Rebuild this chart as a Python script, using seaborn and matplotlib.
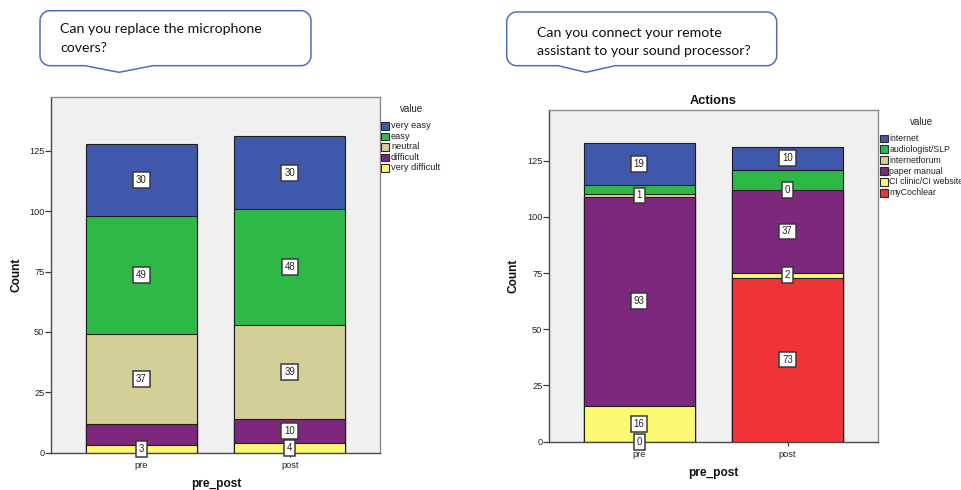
import numpy as np
import pandas as pd
import matplotlib
matplotlib.use("Agg")
import matplotlib.pyplot as plt
import seaborn as sns
from matplotlib.patches import Rectangle, Polygon

# ---- data -------------------------------------------------------------
periods = ["pre", "post"]

# Question 1: replacing the microphone covers (legend order, top of stack first)
cover_levels = ["very easy", "easy", "neutral", "difficult", "very difficult"]
cover_pre = [30, 49, 37, 9, 3]
cover_post = [30, 48, 39, 10, 4]
cover_colors = ["#3F58AB", "#2EB848", "#D4CF98", "#7D287D", "#FBF873"]
# segments whose value is printed on the bar
cover_show_pre = [True, True, True, False, True]
cover_show_post = [True, True, True, True, True]

# Question 2: connecting the remote assistant (legend order, top of stack first)
action_levels = ["internet", "audiologist/SLP", "internetforum",
                 "paper manual", "CI clinic/CI website", "myCochlear"]
action_pre = [19, 4, 1, 93, 16, 0]
action_post = [10, 9, 0, 37, 2, 73]
action_colors = ["#3F58AB", "#2EB848", "#D4CF98", "#7D287D", "#FBF873", "#EF3338"]
action_show_pre = [True, False, True, True, True, True]
action_show_post = [True, False, True, True, True, True]

W, H = 962, 490
sns.set_theme(style="white")
plt.rcParams["font.family"] = ["Liberation Sans", "DejaVu Sans"]

fig = plt.figure(figsize=(W / 100, H / 100), dpi=100)
fig.patch.set_facecolor("white")


def fx(px):
    return px / W


def fy(py):
    return 1 - py / H


def stacked_panel(rect, levels, pre, post, colors, show_pre, show_post,
                  ymax, title=None):
    ax = fig.add_axes(rect)
    ax.set_facecolor("#F0F0F0")
    df = pd.DataFrame({
        "value": levels * 2,
        "pre_post": [periods[0]] * len(levels) + [periods[1]] * len(levels),
        "Count": list(pre) + list(post),
    })
    df["value"] = pd.Categorical(df["value"], levels, ordered=True)
    df = df.sort_values(["pre_post", "value"], ascending=[True, False])
    # bottom of stack is the last legend level
    df["top"] = df.groupby("pre_post", sort=False)["Count"].cumsum()
    df["base"] = df["top"] - df["Count"]

    # draw cumulative bars from the tallest layer down so each layer covers the next
    for lvl, col in zip(levels, colors):
        layer = df[df["value"] == lvl]
        sns.barplot(data=layer, x="pre_post", y="top", order=periods,
                    color=col, width=0.75, edgecolor="#1e1e1e", linewidth=0.8,
                    saturation=1, errorbar=None, ax=ax)

    shows = {periods[0]: show_pre, periods[1]: show_post}
    for _, row in df.iterrows():
        i = levels.index(row["value"])
        if not shows[row["pre_post"]][i]:
            continue
        xpos = periods.index(row["pre_post"])
        ax.text(xpos, row["base"] + row["Count"] / 2, str(int(row["Count"])),
                ha="center", va="center", fontsize=6.9, color="#222222",
                clip_on=False, zorder=10,
                bbox=dict(boxstyle="square,pad=0.3", fc="white",
                          ec="#3a3a3a", lw=1.1))

    ax.set_xlim(-0.608, 1.608)
    ax.set_ylim(0, ymax)
    ax.set_yticks([0, 25, 50, 75, 100, 125])
    ax.set_xlabel("")
    ax.set_ylabel("")
    for side in ["left", "bottom"]:
        ax.spines[side].set_color("#4a4a4a")
        ax.spines[side].set_linewidth(1.0)
    for side in ["top", "right"]:
        ax.spines[side].set_color("#8c8c8c")
        ax.spines[side].set_linewidth(1.0)
    ax.tick_params(axis="y", length=4.3, width=0.9, color="#3a3a3a",
                   labelsize=6.6, labelcolor="#222222", pad=0.5, left=True)
    ax.tick_params(axis="x", length=3, width=0.9, color="#3a3a3a",
                   labelsize=6.6, labelcolor="#222222", pad=3.0, bottom=True)
    if title:
        ax.set_title(title, fontsize=9.2, fontweight="bold", pad=4,
                     color="#111111")
    return ax


def legend(levels, colors, title_xy, patch_x, y0, dy, size):
    fig.text(fx(title_xy[0]), fy(title_xy[1]), "value", fontsize=7,
             ha="center", va="center", color="#222222")
    for k, (lvl, col) in enumerate(zip(levels, colors)):
        yc = y0 + k * dy
        fig.add_artist(Rectangle((fx(patch_x), fy(yc + 3.9)), fx(7.7), 7.7 / H,
                                 transform=fig.transFigure, fc=col,
                                 ec="#2a2a2a", lw=0.8))
        fig.text(fx(patch_x + 9.5), fy(yc), lvl, fontsize=size, ha="left",
                 va="center", color="#222222")


def bubble(x0, y0, x1, y1, r, t1, tip_x, tip_y, t2, lines, text_x, text_y0,
           line_gap):
    pts = []

    def arc(cx, cy, a0, a1):
        for a in np.linspace(a0, a1, 14):
            pts.append((cx + r * np.cos(a), cy + r * np.sin(a)))

    arc(x0 + r, y0 + r, np.pi, 1.5 * np.pi)
    arc(x1 - r, y0 + r, 1.5 * np.pi, 2 * np.pi)
    arc(x1 - r, y1 - r, 0, 0.5 * np.pi)
    pts += [(t2, y1), (tip_x, tip_y), (t1, y1)]
    arc(x0 + r, y1 - r, 0.5 * np.pi, np.pi)
    frac = [(fx(px), fy(py)) for px, py in pts]
    fig.add_artist(Polygon(frac, closed=True, transform=fig.transFigure,
                           fc="white", ec="#4F6FB5", lw=1.1))
    for k, line in enumerate(lines):
        fig.text(fx(text_x), fy(text_y0 + k * line_gap), line,
                 family=["Lato", "DejaVu Sans"], fontsize=10.2,
                 color="#111111", ha="left", va="center")


# ---- left panel --------------------------------------------------------
axL = stacked_panel([fx(51), fy(452.7), fx(329), (452.7 - 97.3) / H],
                    cover_levels, cover_pre, cover_post, cover_colors,
                    cover_show_pre, cover_show_post, 147.2)
fig.text(fx(16.7), fy(274.5), "Count", rotation=90, fontsize=8.6,
         fontweight="bold", ha="center", va="center", color="#111111")
fig.text(fx(216), fy(484), "pre_post", fontsize=8.6, fontweight="bold",
         ha="center", va="center", color="#111111")
legend(cover_levels, cover_colors, (411.5, 109), 381.5, 126, 10.45, 6.7)
bubble(40, 10.7, 311, 65.7, 10, 85, 119, 72.3, 153,
       ["Can you replace the microphone", "covers?"], 60, 29.3, 19)

# ---- right panel -------------------------------------------------------
axR = stacked_panel([fx(549), fy(441.7), fx(328.7), (441.7 - 110) / H],
                    action_levels, action_pre, action_post, action_colors,
                    action_show_pre, action_show_post, 147.5, title="Actions")
fig.text(fx(514), fy(276), "Count", rotation=90, fontsize=8.6,
         fontweight="bold", ha="center", va="center", color="#111111")
fig.text(fx(713.5), fy(473), "pre_post", fontsize=8.6, fontweight="bold",
         ha="center", va="center", color="#111111")
legend(action_levels, action_colors, (921.7, 121.7), 880, 138.3, 10.9, 6.3)
bubble(506.7, 12, 776.7, 65.7, 10, 558, 586, 72.3, 615,
       ["Can you connect your remote", "assistant to your sound processor?"],
       537.3, 32.7, 18.5)

fig.savefig("out.png", dpi=100, facecolor="white")
